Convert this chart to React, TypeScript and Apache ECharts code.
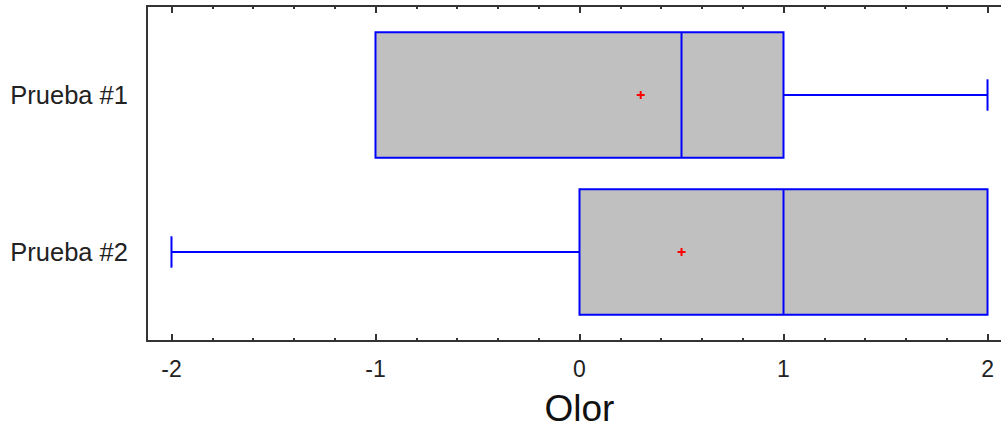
import React, { useEffect, useRef } from "react";
import * as echarts from "echarts";

const categories = ["Prueba #1", "Prueba #2"];
const minValues = [-1, -2];
const q1Values = [-1, 0];
const medianValues = [0.5, 1];
const q3Values = [1, 2];
const maxValues = [2, 2];
const meanValues = [0.3, 0.5];
const majorTicks = [-2, -1, 0, 1, 2];
const minorTicks = [-1.8, -1.6, -1.4, -1.2, -0.8, -0.6, -0.4, -0.2, 0.2, 0.4, 0.6, 0.8, 1.2, 1.4, 1.6, 1.8];

const FRAME = "#333333";
const BLUE = "#0000ff";
const FONT = "Liberation Sans, Arial, sans-serif";

export default function App() {
  const ref = useRef<HTMLDivElement>(null);
  useEffect(() => {
    if (!ref.current) return;
    const chart = echarts.init(ref.current, null, { renderer: "svg" });
    const data = categories.map((_, i) => [
      i,
      minValues[i],
      q1Values[i],
      medianValues[i],
      q3Values[i],
      maxValues[i],
      meanValues[i],
    ]);
    const xRange = { min: -2.12, max: 2.12 };
    const baseX = {
      type: "value",
      ...xRange,
      splitLine: { show: false },
      axisLabel: { show: false },
    };
    const option: any = {
      animation: false,
      backgroundColor: "#ffffff",
      grid: { left: 147, top: 6, right: -11, bottom: 89, containLabel: false, outerBoundsMode: "none" },
      xAxis: [
        {
          ...baseX,
          position: "bottom",
          axisLine: { show: true, onZero: false, lineStyle: { color: FRAME, width: 2 } },
          axisTick: { show: true, inside: true, length: 7, customValues: majorTicks, lineStyle: { color: FRAME, width: 2 } },
          axisLabel: {
            show: true,
            customValues: majorTicks,
            margin: 16,
            fontSize: 23,
            color: "#222",
            fontFamily: FONT,
            formatter: (v: number) => String(v),
          },
          name: "Olor",
          nameLocation: "middle",
          nameGap: 49,
          nameTextStyle: { fontSize: 37, color: "#111", fontFamily: FONT },
        },
        {
          ...baseX,
          position: "top",
          axisLine: { show: true, onZero: false, lineStyle: { color: FRAME, width: 2 } },
          axisTick: { show: true, inside: true, length: 7, customValues: majorTicks, lineStyle: { color: FRAME, width: 2 } },
        },
        {
          ...baseX,
          position: "bottom",
          offset: 0,
          axisLine: { show: false, onZero: false },
          axisTick: { show: true, inside: true, length: 3, customValues: minorTicks, lineStyle: { color: FRAME, width: 2 } },
        },
        {
          ...baseX,
          position: "top",
          offset: 0,
          axisLine: { show: false, onZero: false },
          axisTick: { show: true, inside: true, length: 3, customValues: minorTicks, lineStyle: { color: FRAME, width: 2 } },
        },
      ],
      yAxis: [
        {
          type: "value",
          inverse: true,
          min: -0.567,
          max: 1.567,
          position: "left",
          splitLine: { show: false },
          axisLine: { show: true, onZero: false, lineStyle: { color: FRAME, width: 2 } },
          axisTick: { show: false },
          axisLabel: {
            customValues: [0, 1],
            formatter: (v: number) => categories[Math.round(v)] ?? "",
            margin: 19,
            fontSize: 25.5,
            color: "#222",
            fontFamily: FONT,
          },
        },
      ],
      series: [
        {
          type: "custom",
          xAxisIndex: 0,
          yAxisIndex: 0,
          clip: false,
          encode: { x: [1, 2, 3, 4, 5, 6], y: 0 },
          data,
          renderItem: (params: any, api: any) => {
            const yi = api.value(0);
            const vMin = api.value(1);
            const vQ1 = api.value(2);
            const vMed = api.value(3);
            const vQ3 = api.value(4);
            const vMax = api.value(5);
            const vMean = api.value(6);
            const half = 0.4;
            const cap = 0.1;
            const c = (x: number, y: number) => api.coord([x, y]);
            const lineStyle = { stroke: BLUE, lineWidth: 2, fill: null };
            const children: any[] = [];
            const pTop = c(vQ1, yi - half);
            const pBot = c(vQ3, yi + half);
            children.push({
              type: "rect",
              shape: {
                x: Math.min(pTop[0], pBot[0]),
                y: Math.min(pTop[1], pBot[1]),
                width: Math.abs(pBot[0] - pTop[0]),
                height: Math.abs(pBot[1] - pTop[1]),
              },
              style: { fill: "#c0c0c0", stroke: BLUE, lineWidth: 2 },
            });
            const seg = (x1: number, y1: number, x2: number, y2: number) => {
              const a = c(x1, y1);
              const b = c(x2, y2);
              children.push({
                type: "line",
                shape: { x1: a[0], y1: a[1], x2: b[0], y2: b[1] },
                style: lineStyle,
              });
            };
            seg(vMed, yi - half, vMed, yi + half);
            if (vMin < vQ1) {
              seg(vMin, yi, vQ1, yi);
              seg(vMin, yi - cap, vMin, yi + cap);
            }
            if (vMax > vQ3) {
              seg(vQ3, yi, vMax, yi);
              seg(vMax, yi - cap, vMax, yi + cap);
            }
            const m = c(vMean, yi);
            const s = 4;
            const red = { stroke: "#ff0000", lineWidth: 2 };
            children.push({ type: "line", shape: { x1: m[0] - s, y1: m[1], x2: m[0] + s, y2: m[1] }, style: red });
            children.push({ type: "line", shape: { x1: m[0], y1: m[1] - s, x2: m[0], y2: m[1] + s }, style: red });
            return { type: "group", children };
          },
        },
      ],
    };
    chart.setOption(option);
    return () => chart.dispose();
  }, []);
  return (
    <div
      ref={ref}
      style={{ position: "absolute", left: 0, top: 0, width: 1001, height: 430, overflow: "hidden" }}
    />
  );
}
